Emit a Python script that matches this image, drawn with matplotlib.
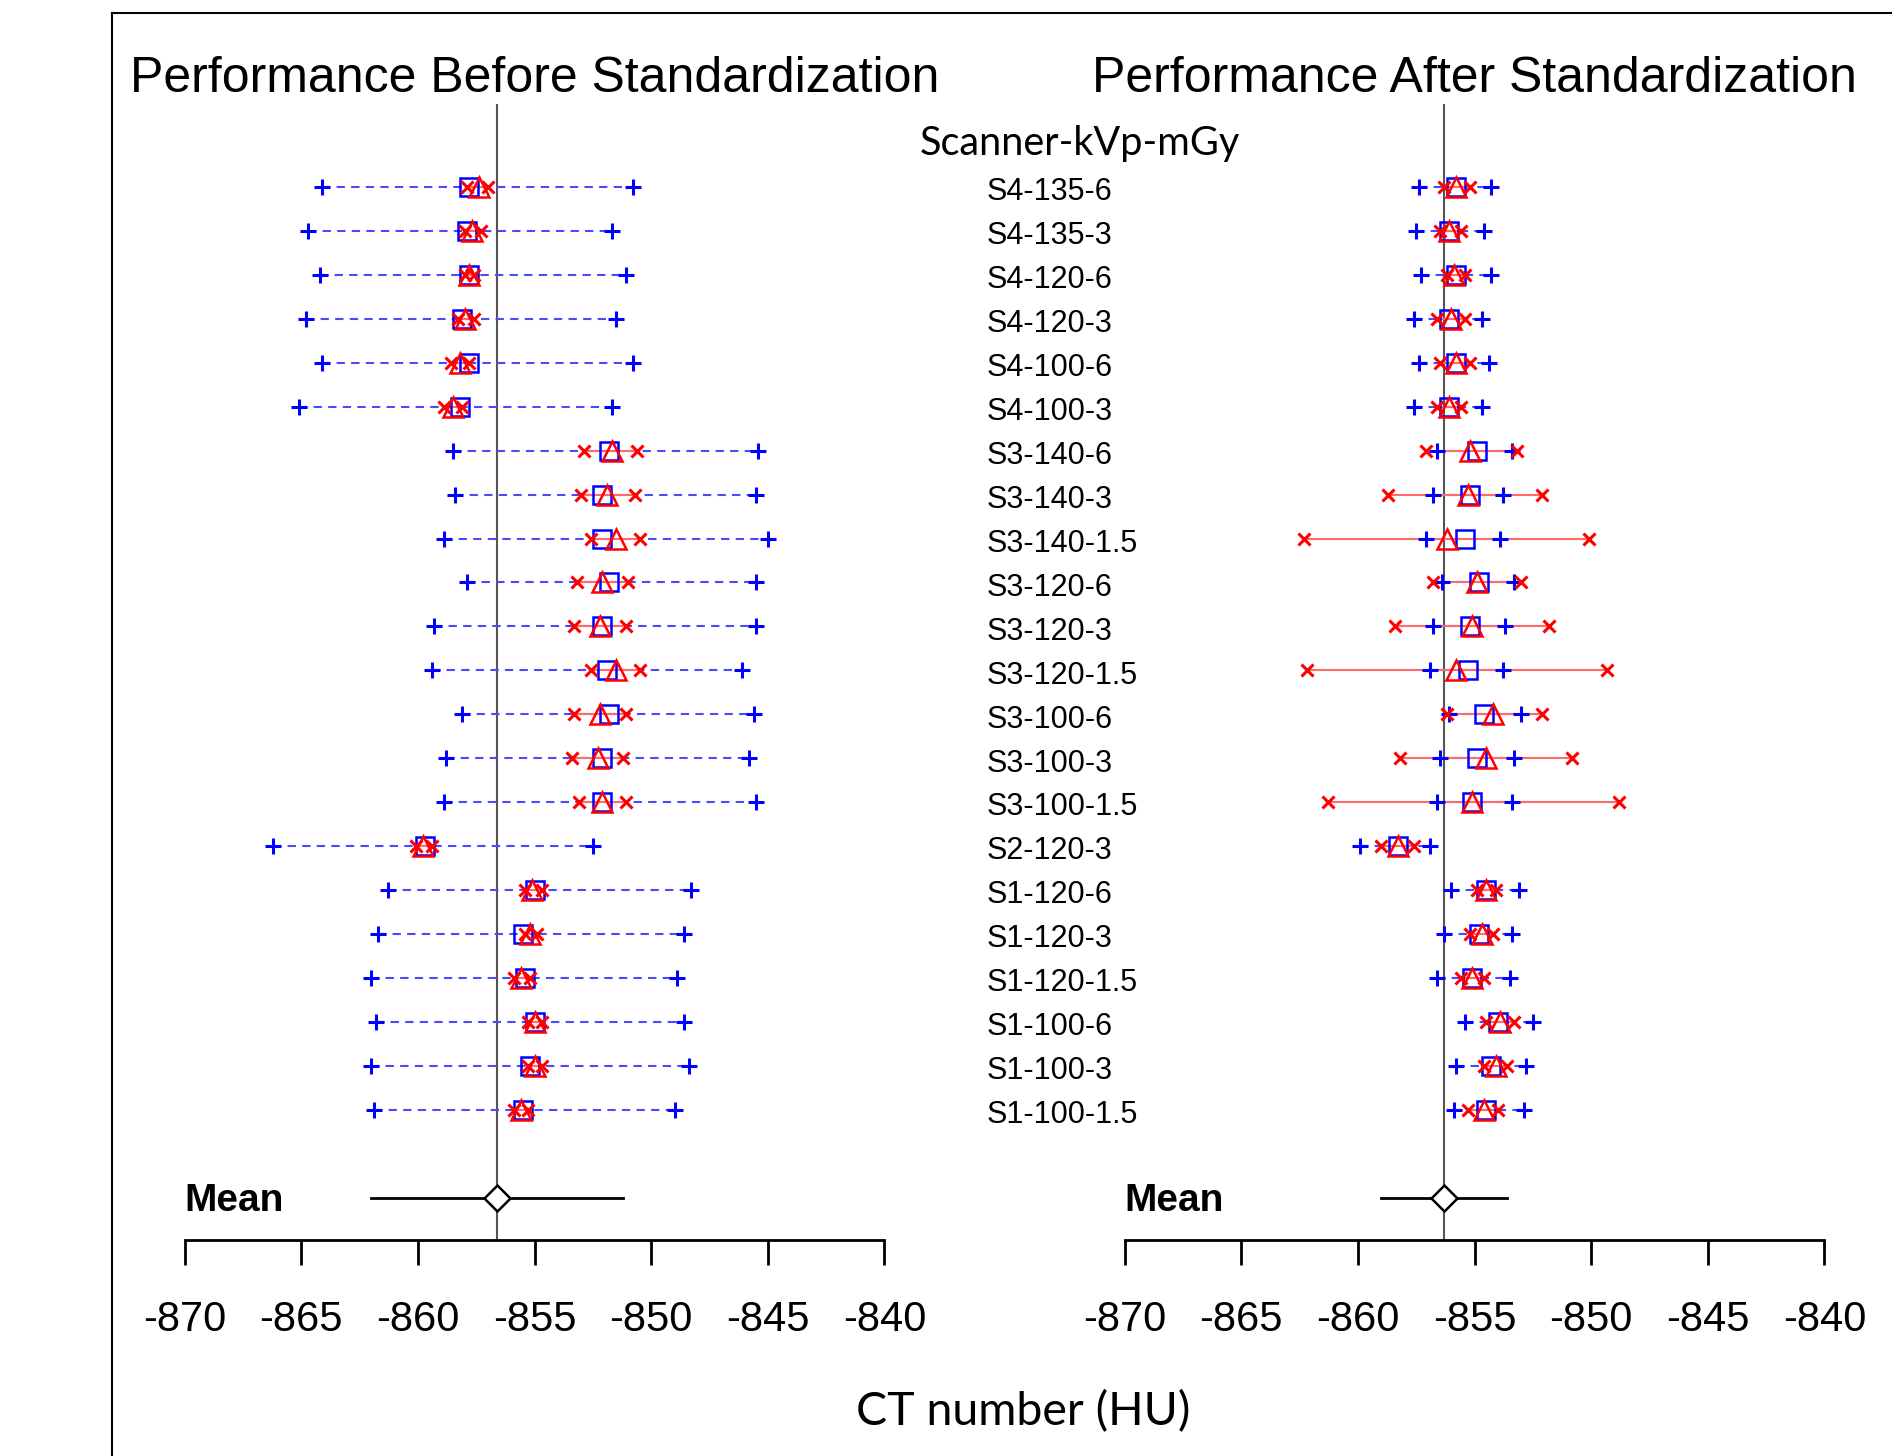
import matplotlib.pyplot as plt
from matplotlib.lines import Line2D
from matplotlib.transforms import blended_transform_factory

# scanner settings, top to bottom
labels = ["S4-135-6", "S4-135-3", "S4-120-6", "S4-120-3", "S4-100-6", "S4-100-3",
          "S3-140-6", "S3-140-3", "S3-140-1.5", "S3-120-6", "S3-120-3", "S3-120-1.5",
          "S3-100-6", "S3-100-3", "S3-100-1.5", "S2-120-3",
          "S1-120-6", "S1-120-3", "S1-120-1.5", "S1-100-6", "S1-100-3", "S1-100-1.5"]

# performance before standardization (HU)
before_blue_lo = [-864.1, -864.7, -864.2, -864.8, -864.1, -865.1,
                  -858.5, -858.4, -858.9, -857.9, -859.3, -859.4,
                  -858.1, -858.8, -858.9, -866.2,
                  -861.3, -861.7, -862.0, -861.8, -862.0, -861.9]
before_blue_hi = [-850.8, -851.7, -851.1, -851.5, -850.8, -851.7,
                  -845.4, -845.5, -845.0, -845.5, -845.5, -846.1,
                  -845.6, -845.8, -845.5, -852.5,
                  -848.3, -848.6, -848.9, -848.6, -848.4, -849.0]
before_square = [-857.8, -857.9, -857.8, -858.1, -857.8, -858.2,
                 -851.8, -852.1, -852.1, -851.8, -852.1, -851.9,
                 -851.8, -852.1, -852.1, -859.7,
                 -855.0, -855.5, -855.4, -855.0, -855.2, -855.5]
before_triangle = [-857.4, -857.7, -857.8, -858.0, -858.2, -858.5,
                   -851.7, -851.9, -851.5, -852.1, -852.2, -851.5,
                   -852.2, -852.3, -852.1, -859.8,
                   -855.1, -855.2, -855.6, -855.0, -855.0, -855.6]
before_red_lo = [-857.9, -858.0, -858.0, -858.3, -858.6, -858.9,
                 -852.9, -853.0, -852.6, -853.2, -853.3, -852.6,
                 -853.3, -853.4, -853.1, -860.1,
                 -855.4, -855.4, -855.9, -855.3, -855.3, -855.9]
before_red_hi = [-857.0, -857.3, -857.6, -857.6, -857.8, -858.1,
                 -850.6, -850.7, -850.5, -851.0, -851.1, -850.5,
                 -851.1, -851.2, -851.1, -859.4,
                 -854.7, -854.9, -855.2, -854.7, -854.7, -855.3]
before_mean = [-862.0, -856.6, -851.2]

# performance after standardization (HU)
after_blue_lo = [-857.4, -857.5, -857.3, -857.6, -857.4, -857.6,
                 -856.6, -856.8, -857.1, -856.4, -856.8, -856.9,
                 -856.1, -856.5, -856.6, -859.9,
                 -856.0, -856.3, -856.6, -855.4, -855.8, -855.9]
after_blue_hi = [-854.3, -854.6, -854.3, -854.7, -854.4, -854.7,
                 -853.4, -853.8, -853.9, -853.3, -853.7, -853.8,
                 -853.0, -853.3, -853.4, -856.9,
                 -853.1, -853.4, -853.5, -852.5, -852.8, -852.9]
after_square = [-855.8, -856.1, -855.8, -856.1, -855.8, -856.1,
                -854.9, -855.2, -855.4, -854.8, -855.2, -855.3,
                -854.6, -854.9, -855.1, -858.3,
                -854.5, -854.8, -855.1, -854.0, -854.3, -854.5]
after_triangle = [-855.8, -856.1, -855.9, -856.0, -855.8, -856.1,
                  -855.2, -855.3, -856.2, -854.9, -855.1, -855.8,
                  -854.2, -854.5, -855.1, -858.3,
                  -854.5, -854.7, -855.1, -853.9, -854.1, -854.6]
after_red_lo = [-856.3, -856.5, -856.2, -856.6, -856.5, -856.6,
                -857.1, -858.7, -862.3, -856.8, -858.4, -862.2,
                -856.2, -858.2, -861.3, -859.0,
                -854.9, -855.2, -855.6, -854.5, -854.6, -855.3]
after_red_hi = [-855.2, -855.6, -855.4, -855.4, -855.2, -855.6,
                -853.2, -852.1, -850.1, -853.0, -851.8, -849.3,
                -852.1, -850.8, -848.8, -857.6,
                -854.1, -854.2, -854.6, -853.3, -853.6, -854.0]
after_mean = [-859.0, -856.3, -853.6]

ticks = [-870, -865, -860, -855, -850, -845, -840]
ROW_COLOR = "blue"
X_COLOR = "red"

fig = plt.figure(figsize=(18.92, 14.56), dpi=100)
plt.rcParams["font.family"] = ["Liberation Sans", "DejaVu Sans"]


def draw_panel(ax, blo, bhi, sq, tri, rlo, rhi, mean):
    y = list(range(len(labels)))
    for i in y:
        ax.plot([blo[i], bhi[i]], [i, i], color="#4a4aff", lw=1.5,
                linestyle=(0, (4, 3)), zorder=1, clip_on=False)
        ax.plot([rlo[i], rhi[i]], [i, i], color="#ff6a6a", lw=1.5, zorder=2, clip_on=False)
    ax.plot(blo, y, "+", color=ROW_COLOR, ms=12, mew=2.2, ls="none", zorder=3, clip_on=False)
    ax.plot(bhi, y, "+", color=ROW_COLOR, ms=12, mew=2.2, ls="none", zorder=3, clip_on=False)
    ax.plot(sq, y, "s", mfc="none", mec=ROW_COLOR, ms=13, mew=1.8, ls="none", zorder=4, clip_on=False)
    ax.plot(tri, y, "^", mfc="none", mec=X_COLOR, ms=15, mew=1.8, ls="none", zorder=5, clip_on=False)
    ax.plot(rlo, y, "x", color=X_COLOR, ms=8.5, mew=2.2, ls="none", zorder=6, clip_on=False)
    ax.plot(rhi, y, "x", color=X_COLOR, ms=8.5, mew=2.2, ls="none", zorder=6, clip_on=False)

    ax.axvline(mean[1], color="#555555", lw=1.5, zorder=0)
    my = len(labels) + 1
    ax.plot([mean[0], mean[2]], [my, my], color="black", lw=2, zorder=2, clip_on=False)
    ax.plot([mean[1]], [my], "D", mfc="white", mec="black", ms=13, mew=1.8, zorder=3, clip_on=False)
    ax.text(-870, my + 0.08, "Mean", fontsize=28, fontweight="bold", ha="left", va="center")

    ax.set_xlim(-870, -840)
    ax.set_ylim(23.964, -1.894)
    for s in ["left", "right", "top"]:
        ax.spines[s].set_visible(False)
    ax.spines["bottom"].set_linewidth(2)
    ax.spines["bottom"].set_bounds(-870, -840)
    ax.set_yticks([])
    ax.set_xticks(ticks)
    ax.set_xticklabels([str(t) for t in ticks])
    ax.tick_params(axis="x", direction="out", length=18, width=2, labelsize=30, pad=25)


ax1 = fig.add_axes([0.09758, 0.14830, 0.36990, 0.78045])
ax2 = fig.add_axes([0.59439, 0.14830, 0.36990, 0.78045])
draw_panel(ax1, before_blue_lo, before_blue_hi, before_square, before_triangle,
           before_red_lo, before_red_hi, before_mean)
draw_panel(ax2, after_blue_lo, after_blue_hi, after_square, after_triangle,
           after_red_lo, after_red_hi, after_mean)

fig.text(0.2825, 0.9455, "Performance Before Standardization", fontsize=36, ha="center", va="center")
fig.text(0.7793, 0.9455, "Performance After Standardization", fontsize=36, ha="center", va="center")

# row labels between the panels
trans = blended_transform_factory(fig.transFigure, ax1.transData)
for i, lab in enumerate(labels):
    fig.text(0.5217, i + 0.12, lab, fontsize=22, ha="left", va="center", transform=trans)
fig.text(0.5708, -1, "Scanner-kVp-mGy", fontsize=28.5, family="Lato",
         ha="center", va="center", transform=trans)
fig.text(0.5408, 0.0306, "CT number (HU)", fontsize=33.5, family="Lato", ha="center", va="center")

# outer frame (left and top edges)
fig.add_artist(Line2D([0.059, 0.059], [0, 0.9913], transform=fig.transFigure, color="black", lw=1.5))
fig.add_artist(Line2D([0.059, 1.0], [0.9913, 0.9913], transform=fig.transFigure, color="black", lw=1.5))

fig.savefig("out.png", dpi=100)
